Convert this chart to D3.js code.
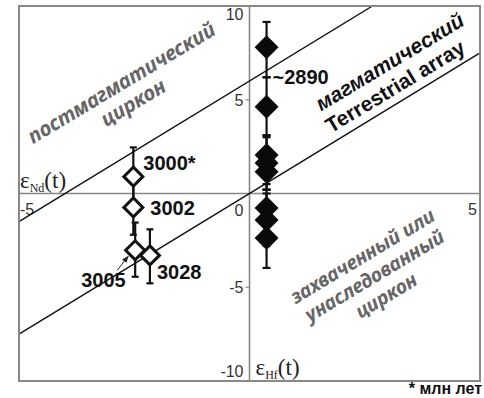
<!DOCTYPE html>
<html>
<head>
<meta charset="utf-8">
<script src="https://cdn.jsdelivr.net/npm/d3@7"></script>
<style>
  body { margin: 0; background: #fff; }
  svg { display: block; }
</style>
</head>
<body>
<div id="chart"></div>
<script>
var width = 484;
var height = 398;

// ---- data ----
var yTicks = [10, 5, 0, -5, -10];
var xTicks = [-5, 5];

// terrestrial array band: eHf = slope * eNd + intercept
var arraySlope = 1.5;
var arrayIntercepts = [0, 6];

// open diamonds (labelled by age, Ma)
var openLabels = ['3000*', '3002', '3005', '3028'];
var openX  = [-2.52, -2.52, -2.48, -2.16];
var openY  = [0.9, -0.74, -3.03, -3.3];
var openLo = [-0.66, -2.2, -4.44, -4.79];
var openHi = [2.46, 0.7, -1.55, -1.91];

// filled diamonds (~2890 Ma)
var filledX  = [0.37, 0.37, 0.37, 0.37, 0.37, 0.37, 0.37, 0.37];
var filledY  = [7.8, 4.63, 2.05, 1.63, 1.16, -0.77, -1.41, -2.37];
var filledLo = [6.2, 3.1, 0.5, 0.2, 0.2, -2.0, -2.8, -3.97];
var filledHi = [9.15, 6.2, 3.1, 3.0, 2.1, 0.2, 0.0, -0.8];

var x = d3.scaleLinear().domain([-5, 5]).range([19, 480]);
var y = d3.scaleLinear().domain([-10, 10]).range([381, 6]);

var svg = d3.select('#chart').append('svg')
            .attr('width', width)
            .attr('height', height);

svg.append('defs').append('clipPath').attr('id', 'plotclip')
   .append('rect')
   .attr('x', x(-5)).attr('y', y(10))
   .attr('width', x(5) - x(-5)).attr('height', y(-10) - y(10));

var marker = svg.select('defs').append('marker')
   .attr('id', 'arrow')
   .attr('viewBox', '0 0 10 10')
   .attr('refX', 9).attr('refY', 5)
   .attr('markerWidth', 7).attr('markerHeight', 7)
   .attr('orient', 'auto');
marker.append('path').attr('d', 'M0,1 L10,5 L0,9 z').attr('fill', '#222');

// axes through the origin
svg.append('line')
   .attr('x1', x(-5)).attr('x2', x(5))
   .attr('y1', y(0)).attr('y2', y(0))
   .attr('stroke', '#888').attr('stroke-width', 1.6);
svg.append('line')
   .attr('x1', x(0)).attr('x2', x(0))
   .attr('y1', y(10)).attr('y2', y(-10))
   .attr('stroke', '#888').attr('stroke-width', 1.6);

// small ticks on vertical axis
svg.selectAll('.ytick')
   .data([5, -5]).enter()
   .append('line')
   .attr('x1', x(0) - 4).attr('x2', x(0))
   .attr('y1', function(d) { return y(d); })
   .attr('y2', function(d) { return y(d); })
   .attr('stroke', '#888').attr('stroke-width', 1.2);

// tick labels
var tickFont = '"Liberation Sans", Arial, sans-serif';
svg.selectAll('.ylab')
   .data(yTicks).enter()
   .append('text')
   .attr('x', x(0) - 6)
   .attr('y', function(d) {
       if (d == 10) return y(d) + 14;
       if (d == 0) return y(d) + 22;
       if (d == -10) return y(d) - 4;
       return y(d) + 2;
   })
   .attr('text-anchor', 'end')
   .attr('dominant-baseline', function(d) { return (d == 10 || d == -10 || d == 0) ? 'auto' : 'middle'; })
   .attr('font-family', tickFont)
   .attr('font-size', 16)
   .attr('fill', '#333')
   .text(function(d) { return d; });

svg.selectAll('.xlab')
   .data(xTicks).enter()
   .append('text')
   .attr('x', function(d) { return d < 0 ? x(d) + 1 : x(d) - 3; })
   .attr('y', y(0) + 21)
   .attr('text-anchor', function(d) { return d < 0 ? 'start' : 'end'; })
   .attr('font-family', tickFont)
   .attr('font-size', 16)
   .attr('fill', '#333')
   .text(function(d) { return d; });

// terrestrial array lines
svg.append('g').attr('clip-path', 'url(#plotclip)')
   .selectAll('line')
   .data(arrayIntercepts).enter()
   .append('line')
   .attr('x1', x(-5)).attr('x2', x(5))
   .attr('y1', function(b) { return y(arraySlope * -5 + b); })
   .attr('y2', function(b) { return y(arraySlope * 5 + b); })
   .attr('stroke', '#111').attr('stroke-width', 1.3);

// frame
svg.append('rect')
   .attr('x', x(-5)).attr('y', y(10))
   .attr('width', x(5) - x(-5)).attr('height', y(-10) - y(10))
   .attr('fill', 'none')
   .attr('stroke', '#888').attr('stroke-width', 2);

// error bars
function drawErrors(xs, lo, hi, cap) {
    var g = svg.append('g');
    g.selectAll('line.bar')
     .data(xs).enter()
     .append('line')
     .attr('x1', function(d) { return x(d); })
     .attr('x2', function(d) { return x(d); })
     .attr('y1', function(d, i) { return y(lo[i]); })
     .attr('y2', function(d, i) { return y(hi[i]); })
     .attr('stroke', '#111').attr('stroke-width', 2.2);
    [lo, hi].forEach(function(arr) {
        g.selectAll(null)
         .data(xs).enter()
         .append('line')
         .attr('x1', function(d) { return x(d) - cap; })
         .attr('x2', function(d) { return x(d) + cap; })
         .attr('y1', function(d, i) { return y(arr[i]); })
         .attr('y2', function(d, i) { return y(arr[i]); })
         .attr('stroke', '#111').attr('stroke-width', 2.2);
    });
}
drawErrors(filledX, filledLo, filledHi, 4);
drawErrors(openX, openLo, openHi, 3.5);

var diamond = function(r) { return 'M0,' + (-r) + 'L' + r + ',0L0,' + r + 'L' + (-r) + ',0Z'; };

svg.selectAll('path.filled')
   .data(filledY).enter()
   .append('path')
   .attr('d', diamond(12))
   .attr('transform', function(d, i) { return 'translate(' + x(filledX[i]) + ',' + y(d) + ')'; })
   .attr('fill', '#0a0a0a');

svg.selectAll('path.open')
   .data(openY).enter()
   .append('path')
   .attr('d', diamond(9.5))
   .attr('transform', function(d, i) { return 'translate(' + x(openX[i]) + ',' + y(d) + ')'; })
   .attr('fill', '#fff')
   .attr('stroke', '#111')
   .attr('stroke-width', 3);

// age labels
var boldFont = '"Liberation Sans", Arial, sans-serif';
var openLabelDx = [10, 17, -54, 7];
var openLabelDy = [-7, 8, 37, 24];
svg.selectAll('text.age')
   .data(openLabels).enter()
   .append('text')
   .attr('x', function(d, i) { return x(openX[i]) + openLabelDx[i]; })
   .attr('y', function(d, i) { return y(openY[i]) + openLabelDy[i]; })
   .attr('font-family', boldFont)
   .attr('font-weight', 'bold')
   .attr('font-size', 20)
   .attr('fill', '#111')
   .text(function(d) { return d; });

svg.append('line')
   .attr('x1', x(openX[2]) - 18).attr('y1', y(openY[2]) + 20)
   .attr('x2', x(openX[2]) - 7).attr('y2', y(openY[2]) + 6)
   .attr('stroke', '#222').attr('stroke-width', 1)
   .attr('marker-end', 'url(#arrow)');

svg.append('text')
   .attr('x', x(filledX[0]) + 6)
   .attr('y', y(6.2) + 7)
   .attr('font-family', boldFont)
   .attr('font-weight', 'bold')
   .attr('font-size', 20)
   .attr('fill', '#111')
   .text('~2890');

// field annotations
var angle = -31;
function rotatedText(lines, cx, cy, dy, opts) {
    var t = svg.append('text')
       .attr('transform', 'translate(' + cx + ',' + cy + ') rotate(' + angle + ')')
       .attr('text-anchor', 'middle')
       .attr('font-family', opts.family)
       .attr('font-weight', 'bold')
       .attr('font-style', opts.style)
       .attr('font-size', opts.size)
       .attr('fill', opts.fill);
    lines.forEach(function(s, i) {
        t.append('tspan')
         .attr('x', (opts.dx && opts.dx[i]) || 0)
         .attr('y', i * dy)
         .attr('font-style', (opts.styles && opts.styles[i]) || opts.style)
         .text(s);
    });
}

var grey = '#666';
rotatedText(['постмагматический', 'циркон'], 125, 89, 23,
            { family: '"Noto Sans", sans-serif', style: 'italic', size: 20.5, fill: grey });
rotatedText(['магматический', 'Terrestrial array'], 390, 70, 24,
            { family: '"Liberation Sans", Arial, sans-serif', style: 'italic', size: 21, fill: '#111',
              styles: ['italic', 'normal'], dx: [4, -4] });
rotatedText(['захваченный или', 'унаследованный', 'циркон'], 366, 262, 23,
            { family: '"Noto Sans", sans-serif', style: 'italic', size: 19.5, fill: grey });

// axis titles
function epsLabel(px, py, sub) {
    var t = svg.append('text')
       .attr('x', px).attr('y', py)
       .attr('font-family', '"Liberation Serif", "Times New Roman", serif')
       .attr('font-size', 23)
       .attr('fill', '#222');
    t.append('tspan').text('ε');
    t.append('tspan').attr('font-size', 12).attr('dy', 4).text(sub);
    t.append('tspan').attr('dy', -4).text('(t)');
}
epsLabel(x(-5) + 1, y(0) - 6, 'Nd');
epsLabel(x(0) + 6, y(-10) - 6, 'Hf');

svg.append('text')
   .attr('x', 482).attr('y', 394)
   .attr('text-anchor', 'end')
   .attr('font-family', boldFont)
   .attr('font-weight', 'bold')
   .attr('font-size', 16)
   .attr('fill', '#111')
   .text('* млн лет');
</script>
</body>
</html>
